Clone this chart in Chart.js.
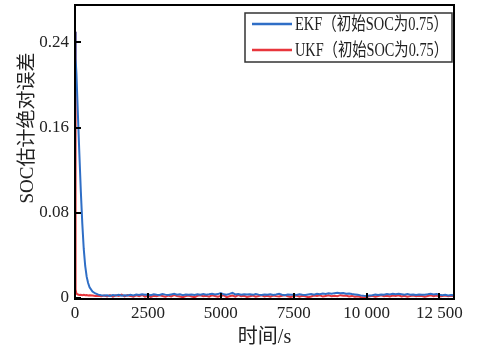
<!DOCTYPE html>
<html>
<head>
<meta charset="utf-8">
<script src="https://cdn.jsdelivr.net/npm/chart.js@4/dist/chart.umd.min.js"></script>
<style>
  html, body { margin: 0; padding: 0; background: #fff; }
  #wrap { width: 480px; height: 350px; }
</style>
</head>
<body>
<div id="wrap"><canvas id="errChart" width="480" height="350"></canvas></div>
<script>
// time axis (s)
const time = [
  0, 10, 20, 30, 50, 100, 150, 200, 250, 300, 350, 400, 450, 500,
  600, 700, 800, 900,
  1000, 1100, 1200, 1300, 1400, 1500, 1600, 1700, 1800, 1900,
  2000, 2100, 2200, 2300, 2400, 2500, 2600, 2700, 2800, 2900,
  3000, 3100, 3200, 3300, 3400, 3500, 3600, 3700, 3800, 3900,
  4000, 4100, 4200, 4300, 4400, 4500, 4600, 4700, 4800, 4900,
  5000, 5100, 5200, 5300, 5400, 5500, 5600, 5700, 5800, 5900,
  6000, 6100, 6200, 6300, 6400, 6500, 6600, 6700, 6800, 6900,
  7000, 7100, 7200, 7300, 7400, 7500, 7600, 7700, 7800, 7900,
  8000, 8100, 8200, 8300, 8400, 8500, 8600, 8700, 8800, 8900,
  9000, 9100, 9200, 9300, 9400, 9500, 9600, 9700, 9800, 9900,
  10000, 10100, 10200, 10300, 10400, 10500, 10600, 10700, 10800, 10900,
  11000, 11100, 11200, 11300, 11400, 11500, 11600, 11700, 11800, 11900,
  12000, 12100, 12200, 12300, 12400, 12500, 12600, 12700, 12800, 12900,
  13000
];

// EKF, initial SOC 0.75
const ekfErr = [
  0.250, 0.240, 0.232, 0.225, 0.210, 0.172, 0.135, 0.100, 0.070, 0.046, 0.030, 0.020, 0.014, 0.010,
  0.0060, 0.0042, 0.0031, 0.0026,
  0.0022, 0.0025, 0.0019, 0.0028, 0.0024, 0.0030, 0.0021, 0.0026, 0.0023, 0.0029,
  0.0024, 0.0031, 0.0027, 0.0035, 0.0029, 0.0033, 0.0026, 0.0034, 0.0030, 0.0028,
  0.0036, 0.0031, 0.0027, 0.0033, 0.0038, 0.0030, 0.0034, 0.0026, 0.0032, 0.0029,
  0.0033, 0.0028, 0.0035, 0.0031, 0.0037, 0.0030, 0.0034, 0.0039, 0.0032, 0.0036,
  0.0045, 0.0034, 0.0031, 0.0038, 0.0047, 0.0033, 0.0036, 0.0030, 0.0035, 0.0032,
  0.0034, 0.0029, 0.0036, 0.0031, 0.0027, 0.0033, 0.0030, 0.0035, 0.0028, 0.0032,
  0.0038, 0.0030, 0.0026, 0.0033, 0.0029, 0.0031, 0.0027, 0.0034, 0.0030, 0.0028,
  0.0032, 0.0036, 0.0030, 0.0038, 0.0034, 0.0041, 0.0037, 0.0043, 0.0039, 0.0045,
  0.0048, 0.0044, 0.0046, 0.0040, 0.0042, 0.0036, 0.0033, 0.0029, 0.0024, 0.0020,
  0.0018, 0.0022, 0.0026, 0.0031, 0.0028, 0.0033, 0.0030, 0.0036, 0.0032, 0.0038,
  0.0034, 0.0039, 0.0035, 0.0031, 0.0036, 0.0030, 0.0033, 0.0028, 0.0032, 0.0029,
  0.0031, 0.0035, 0.0040, 0.0033, 0.0037, 0.0030, 0.0026, 0.0029, 0.0024, 0.0027,
  0.0025
];

// UKF, initial SOC 0.75
const ukfErr = [
  0.250, 0.120, 0.030, 0.008, 0.004, 0.0032, 0.0028, 0.0030, 0.0026, 0.0029, 0.0025, 0.0027, 0.0024, 0.0026,
  0.0023, 0.0018, 0.0021, 0.0016,
  0.0022, 0.0015, 0.0027, 0.0012, 0.0025, 0.0018, 0.0030, 0.0014, 0.0026, 0.0019,
  0.0011, 0.0024, 0.0017, 0.0028, 0.0013, 0.0021, 0.0009, 0.0020, 0.0016, 0.0025,
  0.0018, 0.0012, 0.0023, 0.0015, 0.0027, 0.0019, 0.0013, 0.0006, 0.0017, 0.0022,
  0.0014, 0.0008, 0.0020, 0.0025, 0.0016, 0.0021, 0.0012, 0.0024, 0.0018, 0.0011,
  0.0019, 0.0026, 0.0007, 0.0015, 0.0022, 0.0013, 0.0027, 0.0017, 0.0021, 0.0010,
  0.0016, 0.0023, 0.0012, 0.0019, 0.0025, 0.0014, 0.0020, 0.0011, 0.0022, 0.0017,
  0.0013, 0.0021, 0.0026, 0.0015, 0.0009, 0.0018, 0.0023, 0.0012, 0.0020, 0.0016,
  0.0007, 0.0014, 0.0022, 0.0018, 0.0025, 0.0013, 0.0019, 0.0024, 0.0015, 0.0021,
  0.0017, 0.0026, 0.0020, 0.0023, 0.0014, 0.0019, 0.0011, 0.0016, 0.0008, 0.0005,
  0.0009, 0.0015, 0.0021, 0.0012, 0.0018, 0.0024, 0.0016, 0.0020, 0.0013, 0.0022,
  0.0018, 0.0025, 0.0014, 0.0020, 0.0011, 0.0017, 0.0023, 0.0015, 0.0021, 0.0019,
  0.0012, 0.0018, 0.0024, 0.0016, 0.0022, 0.0013, 0.0019, 0.0023, 0.0017, 0.0020,
  0.0018
];

const xTicks = [0, 2500, 5000, 7500, 10000, 12500];
const xTickLabels = ['0', '2500', '5000', '7500', '10 000', '12 500'];
const yTicks = [0, 0.08, 0.16, 0.24];
const yTickLabels = ['0', '0.08', '0.16', '0.24'];
const seriesLabels = ['EKF（初始SOC为0.75）', 'UKF（初始SOC为0.75）'];
const yTitle = 'SOC估计绝对误差';

const FONT = "'Liberation Serif', 'Noto Sans CJK SC', serif";
const BLUE = '#2f6ec6';
const RED = '#e8363c';

// frame, inward ticks, y title and legend box
const framePlugin = {
  id: 'frame',
  afterDatasetsDraw(chart) {
    const { ctx, chartArea: a, scales } = chart;
    ctx.save();
    ctx.strokeStyle = '#000';
    ctx.lineWidth = 2;
    ctx.strokeRect(a.left, a.top, a.right - a.left, a.bottom - a.top);
    ctx.beginPath();
    xTicks.forEach(v => {
      const px = Math.round(scales.x.getPixelForValue(v));
      ctx.moveTo(px, a.bottom);
      ctx.lineTo(px, a.bottom - 6);
    });
    yTicks.forEach(v => {
      const py = Math.round(scales.y.getPixelForValue(v));
      ctx.moveTo(a.left, py);
      ctx.lineTo(a.left + 6, py);
    });
    ctx.stroke();

    // y axis title
    ctx.save();
    ctx.translate(28, 128);
    ctx.rotate(-Math.PI / 2);
    ctx.font = '19px ' + FONT;
    ctx.fillStyle = '#222';
    ctx.textAlign = 'center';
    ctx.textBaseline = 'middle';
    ctx.fillText(yTitle, 0, 0);
    ctx.restore();

    // legend
    const bx = 245, by = 13, bw = 207, bh = 49;
    ctx.fillStyle = '#fff';
    ctx.fillRect(bx, by, bw, bh);
    ctx.lineWidth = 1.5;
    ctx.strokeStyle = '#333';
    ctx.strokeRect(bx, by, bw, bh);
    ctx.font = '18px ' + FONT;
    ctx.textBaseline = 'middle';
    chart.data.datasets.forEach((ds, i) => {
      const ly = by + 11 + i * 26;
      ctx.strokeStyle = ds.borderColor;
      ctx.lineWidth = 2.5;
      ctx.beginPath();
      ctx.moveTo(bx + 7, ly);
      ctx.lineTo(bx + 47, ly);
      ctx.stroke();
      ctx.fillStyle = '#222';
      ctx.fillText(ds.label, bx + 50, ly + 1, 153);
    });
    ctx.restore();
  }
};

const ctx = document.getElementById('errChart').getContext('2d');
new Chart(ctx, {
  type: 'line',
  data: {
    labels: time,
    datasets: [
      {
        label: seriesLabels[0],
        data: time.map((t, i) => ({ x: t, y: ekfErr[i] })),
        borderColor: BLUE,
        borderWidth: 2,
        pointRadius: 0,
        fill: false,
      },
      {
        label: seriesLabels[1],
        data: time.map((t, i) => ({ x: t, y: ukfErr[i] })),
        borderColor: RED,
        borderWidth: 2,
        pointRadius: 0,
        fill: false,
      },
    ],
  },
  options: {
    responsive: false,
    animation: false,
    layout: { padding: { top: 5, right: 26, left: 0, bottom: 0 } },
    plugins: { legend: { display: false }, tooltip: { enabled: false } },
    scales: {
      x: {
        type: 'linear',
        min: 0,
        max: 13000,
        afterBuildTicks: s => { s.ticks = xTicks.map(v => ({ value: v })); },
        afterFit: s => { s.height = 51; s.paddingLeft = 0; s.paddingRight = 0; },
        grid: { display: false, drawTicks: false },
        border: { display: false },
        ticks: {
          color: '#222',
          font: { family: FONT, size: 17 },
          padding: 4,
          maxRotation: 0,
          callback: (v) => xTickLabels[xTicks.indexOf(v)],
        },
        title: {
          display: true,
          text: '时间/s',
          color: '#222',
          font: { family: FONT, size: 20 },
          padding: { top: -2, bottom: 0 },
        },
      },
      y: {
        min: -0.001,
        max: 0.275,
        afterBuildTicks: s => { s.ticks = yTicks.map(v => ({ value: v })); },
        afterFit: s => { s.width = 75; s.paddingTop = 0; s.paddingBottom = 0; },
        grid: { display: false, drawTicks: false },
        border: { display: false },
        ticks: {
          color: '#222',
          font: { family: FONT, size: 17 },
          padding: 6,
          callback: (v) => yTickLabels[yTicks.indexOf(v)],
        },
        title: { display: false },
      },
    },
  },
  plugins: [framePlugin],
});
</script>
</body>
</html>
